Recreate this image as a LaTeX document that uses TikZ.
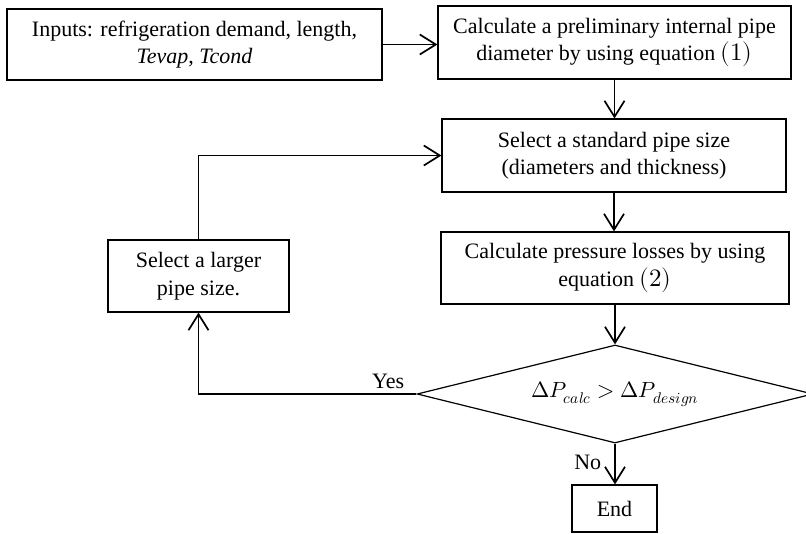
\documentclass[tikz,border=0pt]{standalone}
\usepackage{unicode-math}
\setmainfont{Liberation Serif}
\setmathfont{latinmodern-math.otf}
\usetikzlibrary{arrows.meta,shapes.geometric,calc}
\begin{document}
\begin{tikzpicture}[x=1pt,y=-1pt,
  every node/.style={font=\fontsize{22}{27.5}\selectfont},
  box/.style={draw,line width=1.2pt,align=center,inner sep=0pt},
  dia/.style={draw,line width=1.2pt,shape=diamond,aspect=4.04,inner sep=0pt,minimum width=396pt,minimum height=98pt},
  conn/.style={line width=1.7pt,-{Straight Barb[length=16pt,width=20pt,line width=1.7pt]}},
  lbl/.style={inner sep=1pt}]
\useasboundingbox (0,0) rectangle (806,533);
\node[box,minimum width=375pt,minimum height=71pt] (in) at (194.5,44.5)
  {Inputs: refrigeration demand, length,\\ \textit{Tevap}, \textit{Tcond}};
\node[box,minimum width=353pt,minimum height=73pt] (calc) at (614.5,42.5)
  {Calculate a preliminary internal pipe\\ diameter by using equation {\fontsize{25}{27.5}\selectfont$(1)$}};
\node[box,minimum width=344pt,minimum height=73pt] (std) at (614,155.5)
  {Select a standard pipe size\\ (diameters and thickness)};
\node[box,minimum width=348pt,minimum height=72pt] (loss) at (615,268)
  {Calculate pressure losses by using\\ equation {\fontsize{25}{27.5}\selectfont$(2)$}};
\node[dia] (d) at (615,394) {$\Delta P_{calc} > \Delta P_{design}$};
\node[box,minimum width=85pt,minimum height=47pt] (end) at (614.5,508.5) {End};
\node[box,minimum width=181pt,minimum height=72pt] (larger) at (198.5,276)
  {Select a larger\\ pipe size.};
\draw[conn] (in.east) -- (in.east -| calc.west);
\draw[conn] (calc.south) -- (calc.south |- std.north);
\draw[conn] (std.south) -- (std.south |- loss.north);
\draw[conn] (loss.south) -- (loss.south |- d.north);
\draw[conn] (d.south) -- node[lbl,left=12pt,pos=0.45] (no) {No} (d.south |- end.north);
\draw[conn] (d.west) -- node[lbl,above=3pt,pos=0.13] (yes) {Yes} (d.west -| larger.south) -- (larger.south);
\draw[conn] (larger.north) -- (larger.north |- std.west) -- (std.west);
\end{tikzpicture}
\end{document}
